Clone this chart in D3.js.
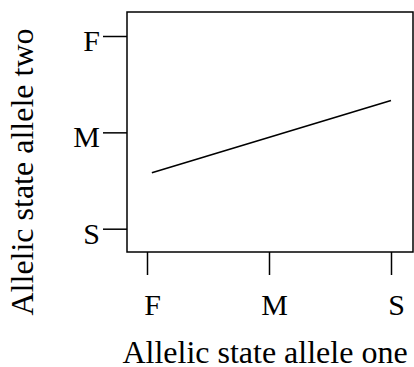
<!DOCTYPE html>
<html>
<head>
<meta charset="utf-8">
<script src="https://cdn.jsdelivr.net/npm/d3@7"></script>
<style>
  body { margin: 0; background: #fff; }
  svg { display: block; font-family: "Liberation Serif", "Times New Roman", serif; }
</style>
</head>
<body>
<div id="chart"></div>
<script>
// categories on each axis (numeric position 1..3)
const xCategories = ["F", "M", "S"];
const yCategories = ["S", "M", "F"];   // bottom to top
const tickPositions = [1, 2, 3];

// fitted line, in category units
const lineX = [1.04, 3];
const lineY = [1.58, 2.33];

const width = 414, height = 367;
const box = {left: 127, right: 413, top: 12, bottom: 252};

const svg = d3.select("#chart").append("svg")
    .attr("width", width)
    .attr("height", height);

const x = d3.scaleLinear().domain([1, 3]).range([147, 391]);
const y = d3.scaleLinear().domain([1, 3]).range([228.7, 36]);

// plot frame
svg.append("rect")
    .attr("x", box.left)
    .attr("y", box.top)
    .attr("width", box.right - box.left)
    .attr("height", box.bottom - box.top)
    .attr("fill", "none")
    .attr("stroke", "#000")
    .attr("stroke-width", 1.5);

// y axis
const yAxis = svg.append("g")
    .attr("transform", `translate(${box.left},0)`)
    .call(d3.axisLeft(y)
        .tickValues(tickPositions)
        .tickSize(24)
        .tickPadding(3)
        .tickFormat((d, i) => yCategories[i]));
yAxis.select(".domain").remove();
yAxis.selectAll(".tick line").attr("stroke-width", 1.5);
yAxis.selectAll(".tick text")
    .attr("dy", "0.48em")
    .attr("font-size", 30)
    .attr("font-family", "Liberation Serif")
    .attr("fill", "#000");

// x axis
const xAxis = svg.append("g")
    .attr("transform", `translate(0,${box.bottom})`)
    .call(d3.axisBottom(x)
        .tickValues(tickPositions)
        .tickSize(23)
        .tickPadding(19)
        .tickFormat((d, i) => xCategories[i]));
xAxis.select(".domain").remove();
xAxis.selectAll(".tick line").attr("stroke-width", 1.5);
xAxis.selectAll(".tick text")
    .attr("dx", 5)
    .attr("font-size", 30)
    .attr("font-family", "Liberation Serif")
    .attr("fill", "#000");

// the line
const points = lineX.map((v, i) => [v, lineY[i]]);
svg.append("path")
    .datum(points)
    .attr("fill", "none")
    .attr("stroke", "#000")
    .attr("stroke-width", 1.6)
    .attr("d", d3.line().x(d => x(d[0])).y(d => y(d[1])));

// axis titles
svg.append("text")
    .attr("x", 265)
    .attr("y", 363)
    .attr("text-anchor", "middle")
    .attr("font-size", 32)
    .text("Allelic state allele one");

svg.append("text")
    .attr("transform", "translate(33,172) rotate(-90)")
    .attr("text-anchor", "middle")
    .attr("font-size", 32)
    .text("Allelic state allele two");
</script>
</body>
</html>
